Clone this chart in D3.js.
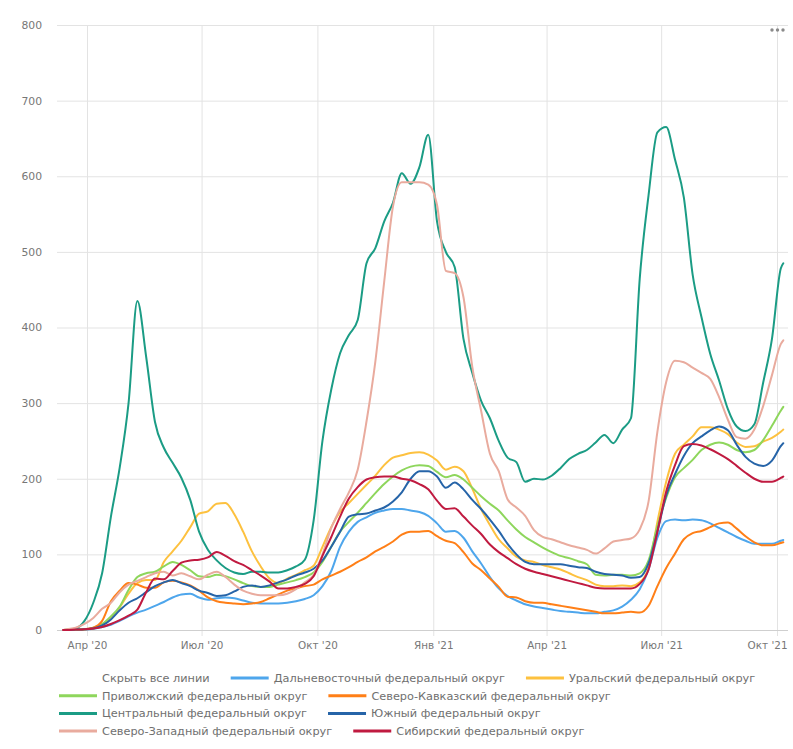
<!DOCTYPE html>
<html>
<head>
<meta charset="utf-8">
<script src="https://cdn.jsdelivr.net/npm/d3@7"></script>
<style>
  html, body { margin: 0; padding: 0; background: #fff; }
  svg { display: block; font-family: "DejaVu Sans", Verdana, sans-serif; }
</style>
</head>
<body>
<svg id="chart" width="793" height="749"></svg>
<script>
// ---- Data -------------------------------------------------------------
// Dates: first report day, then weekly (Mondays) from 2020-03-16 to 2021-10-04, then last day.
const firstDate = "2020-03-13";
const weeklyStart = "2020-03-16";
const weeklyCount = 82;
const lastDate = "2021-10-06";

const xTickLabels = ["Апр '20", "Июл '20", "Окт '20", "Янв '21", "Апр '21", "Июл '21", "Окт '21"];
const xTickDates = ["2020-04-01", "2020-07-01", "2020-10-01", "2021-01-01", "2021-04-01", "2021-07-01", "2021-10-01"];
const yTicks = [0, 100, 200, 300, 400, 500, 600, 700, 800];

const seriesNames = [
  "Дальневосточный федеральный округ",
  "Уральский федеральный округ",
  "Приволжский федеральный округ",
  "Северо-Кавказский федеральный округ",
  "Центральный федеральный округ",
  "Южный федеральный округ",
  "Северо-Западный федеральный округ",
  "Сибирский федеральный округ"
];
const seriesColors = ["#4ea6ec", "#fdc13f", "#8ed65c", "#ff7f17", "#1b9c85", "#2664a8", "#e9ab9e", "#c01a40"];

const farEast = [0,
  0,0.3,0.5,1.5,4,7,12,18,23,27,32,37,43,47,48,43,40,42,43,42,39,36,35,35,35,36,38,41,46,58,
  78,110,130,143,149,155,158,160,160,158,156,151,141,130,131,122,104,88,70,55,45,39,34,31,29,
  27,25,24,23,22,22,24,26,31,40,54,80,122,144,146,145,146,145,141,135,129,123,118,114,114,114,118,
  119];
const ural = [0,
  0.3,0.5,1,2,6,15,30,48,62,66,66,90,104,118,136,154,157,167,168,153,130,104,84,68,62,68,73,79,85,110,
  136,156,168,180,192,204,218,228,231,234,235,232,224,212,216,210,187,160,139,120,108,97,92,90,86,
  83,80,75,70,66,60,58,58,59,58,63,82,143,196,233,245,256,268,268,265,259,248,242,243,249,254,262,
  265];
const volga = [0,
  0,0.5,1,3,8,18,31,53,70,75,77,84,90,86,79,71,70,73,71,67,62,58,57,57,60,63,66,70,76,90,
  110,130,143,155,168,181,193,203,211,216,218,217,209,202,205,199,188,177,167,158,145,133,123,116,109,
  103,98,95,91,87,73,72,73,73,72,75,92,137,175,202,214,225,238,245,248,245,238,235,238,251,270,290,
  295];
const northCaucasus = [0,
  0,0.3,1,3,12,38,52,62,60,56,56,63,65,63,59,52,43,38,36,35,34,35,37,42,47,52,55,58,60,67,
  72,77,83,90,96,104,110,117,126,130,130,131,124,118,115,103,88,79,68,57,44,43,38,36,36,
  34,32,30,28,26,24,22,22,23,24,23,32,58,82,101,120,128,131,136,141,142,134,124,116,112,112,115,
  116];
const central = [0,
  0.5,2,12,36,75,150,215,300,435,361,275,241,221,201,172,130,106,92,82,76,74,77,77,76,76,79,84,93,145,250,
  318,366,390,410,485,505,540,565,604,590,612,655,540,500,480,385,340,303,280,250,228,222,196,200,199,
  204,214,226,233,238,248,258,247,265,280,465,575,658,665,622,572,470,414,365,330,292,269,263,272,327,385,478,
  485];
const south = [0,
  0,0.5,1,2,6,14,26,36,42,50,58,63,66,62,58,52,49,45,46,51,57,59,57,59,63,67,72,76,81,92,
  110,130,150,153,154,158,162,170,182,200,210,210,203,188,195,186,172,160,146,131,114,100,90,87,87,
  87,87,85,83,82,77,74,73,72,69,70,88,130,178,206,230,247,256,264,269,264,245,229,220,217,224,243,
  247];
const northWest = [0,
  1,3,8,16,28,36,50,60,65,70,75,77,72,75,71,67,73,77,70,60,52,48,46,46,46,48,54,63,73,100,
  135,160,182,212,276,355,460,560,592,592,592,589,562,475,472,440,348,290,233,210,173,162,151,132,123,
  120,116,112,109,106,101,108,117,119,121,133,170,262,328,356,354,347,340,332,308,278,255,253,265,296,337,378,
  383];
const siberia = [0,
  0,0.5,1,2,4,8,13,19,27,50,68,67,78,89,92,93,96,103,98,91,86,79,72,64,55,55,57,61,71,98,
  123,150,174,189,199,202,203,203,200,198,193,186,171,160,161,150,138,127,113,103,95,87,81,77,74,
  71,68,65,62,59,56,55,55,55,55,61,80,130,183,218,243,246,244,239,233,226,217,208,200,196,196,201,
  203];

const seriesValues = [farEast, ural, volga, northCaucasus, central, south, northWest, siberia];

// ---- Build ------------------------------------------------------------
const parse = d3.timeParse("%Y-%m-%d");
const dates = [parse(firstDate)]
  .concat(d3.range(weeklyCount).map(i => d3.timeDay.offset(parse(weeklyStart), 7 * i)))
  .concat([parse(lastDate)]);

const svg = d3.select("#chart");
const plotLeft = 57, plotRight = 788, plotTop = 25, plotBottom = 630;
const FONT = "DejaVu Sans, Verdana, sans-serif";

const x = d3.scaleTime()
  .domain([parse("2020-04-01"), parse("2021-10-01")])
  .range([87, 777]);
const y = d3.scaleLinear().domain([0, 800]).range([plotBottom, plotTop]);

// horizontal grid + y labels
const yAxis = d3.axisLeft(y).tickValues(yTicks).tickSize(-(plotRight - plotLeft)).tickPadding(15);
const gy = svg.append("g").attr("transform", `translate(${plotLeft},0)`).call(yAxis);
gy.select(".domain").remove();
gy.selectAll(".tick line").attr("stroke", d => d === 0 ? "#cfcfcf" : "#e3e3e3").attr("stroke-width", 1);
gy.selectAll(".tick text").attr("fill", "#777").attr("font-size", 10.8).attr("font-family", FONT);

// vertical grid + x labels
const xAxis = d3.axisBottom(x)
  .tickValues(xTickDates.map(parse))
  .tickFormat((d, i) => xTickLabels[i])
  .tickSize(-(plotBottom - plotTop) - 6)
  .tickPadding(13);
const gx = svg.append("g").attr("transform", `translate(0,${plotBottom + 6})`).call(xAxis);
gx.select(".domain").remove();
gx.selectAll(".tick line").attr("stroke", "#e3e3e3").attr("stroke-width", 1);
gx.selectAll(".tick text").attr("fill", "#777").attr("font-size", 10.4)
  .attr("font-family", FONT).attr("dy", "0em");
// keep last label inside the chart area
gx.selectAll(".tick text").filter((d, i) => i === xTickLabels.length - 1)
  .attr("text-anchor", "end").attr("x", plotRight - 1 - x(parse(xTickDates[xTickDates.length - 1])));

// bottom baseline on top of vertical grid
svg.append("line").attr("x1", plotLeft).attr("x2", plotRight)
  .attr("y1", y(0) + 0.5).attr("y2", y(0) + 0.5).attr("stroke", "#cfcfcf");

// lines
const line = d3.line()
  .x((d, i) => x(dates[i]))
  .y(d => y(d))
  .curve(d3.curveMonotoneX);

const linesG = svg.append("g");
seriesValues.forEach((vals, s) => {
  linesG.append("path")
    .datum(vals)
    .attr("d", line)
    .attr("fill", "none")
    .attr("stroke", seriesColors[s])
    .attr("stroke-width", 2)
    .attr("stroke-linejoin", "round")
    .attr("stroke-linecap", "round");
});

// menu dots
[772, 777.5, 783].forEach(cx => {
  svg.append("circle").attr("cx", cx).attr("cy", 30).attr("r", 1.7).attr("fill", "#8a8a8a");
});

// legend (flowing, left aligned)
const legendItems = [{ name: "Скрыть все линии", color: null }]
  .concat(seriesNames.map((n, i) => ({ name: n, color: seriesColors[i] })));
const legendG = svg.append("g");
const legLeft = 59, legMax = 790, swatchW = 38, swatchGap = 5, itemGap = 21, rowH = 17.7, firstRowY = 678;
let cx = legLeft, row = 0;
legendItems.forEach(item => {
  const t = legendG.append("text")
    .attr("font-size", 11.3)
    .attr("fill", "#6f6f6f")
    .attr("font-family", FONT)
    .text(item.name);
  const tw = t.node().getComputedTextLength();
  const w = swatchW + swatchGap + tw;
  if (cx + w > legMax) { cx = legLeft; row++; }
  const cy = firstRowY + row * rowH;
  if (item.color) {
    legendG.append("line")
      .attr("x1", cx).attr("x2", cx + swatchW)
      .attr("y1", cy).attr("y2", cy)
      .attr("stroke", item.color).attr("stroke-width", 3);
  }
  t.attr("x", cx + swatchW + swatchGap).attr("y", cy).attr("dy", "0.35em");
  cx += w + itemGap;
});
</script>
</body>
</html>
